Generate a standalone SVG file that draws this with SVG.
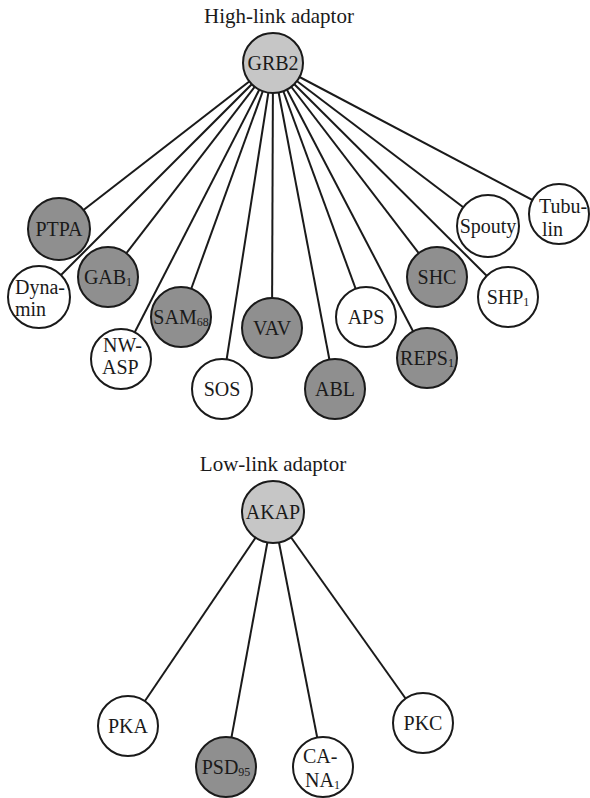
<svg xmlns="http://www.w3.org/2000/svg" width="590" height="798" viewBox="0 0 590 798">
<style>
.t{font-family:"Liberation Serif","Times New Roman",serif;font-size:21px;fill:#1a1a1a}
.l{font-family:"Liberation Serif","Times New Roman",serif;font-size:20px;fill:#1a1a1a;text-anchor:middle}
.ll{font-family:"Liberation Serif","Times New Roman",serif;font-size:20px;fill:#1a1a1a}
.s{font-size:12px}
circle{stroke:#1a1a1a;stroke-width:2}
.w{fill:#ffffff}
.d{fill:#8f8f8f}
.h{fill:#c6c6c6}
.e{stroke:#1a1a1a;stroke-width:2;fill:none}
</style>
<rect width="590" height="798" fill="#ffffff"/>
<text class="t" x="279" y="23" text-anchor="middle">High-link adaptor</text>
<text class="t" x="273" y="471" text-anchor="middle">Low-link adaptor</text>
<g id="connectors">
<g class="e">
<line x1="273" y1="63" x2="59" y2="229"/>
<line x1="273" y1="63" x2="39" y2="297"/>
<line x1="273" y1="63" x2="108" y2="277"/>
<line x1="273" y1="63" x2="121" y2="359"/>
<line x1="273" y1="63" x2="181" y2="317"/>
<line x1="273" y1="63" x2="222" y2="389"/>
<line x1="273" y1="63" x2="272" y2="328"/>
<line x1="273" y1="63" x2="335" y2="389"/>
<line x1="273" y1="63" x2="366" y2="317"/>
<line x1="273" y1="63" x2="427" y2="358"/>
<line x1="273" y1="63" x2="437" y2="277"/>
<line x1="273" y1="63" x2="508" y2="297"/>
<line x1="273" y1="63" x2="488" y2="226"/>
<line x1="273" y1="63" x2="559" y2="214"/>
<line x1="273" y1="512" x2="128" y2="726"/>
<line x1="273" y1="512" x2="226" y2="767"/>
<line x1="273" y1="512" x2="323" y2="767"/>
<line x1="273" y1="512" x2="423" y2="723"/>
</g>
</g>
<g id="GRB2"><circle class="h" cx="273" cy="63" r="30"/><text class="l" x="273" y="70">GRB2</text></g>
<g id="PTPA"><circle class="d" cx="59" cy="229" r="31"/><text class="l" x="59" y="236">PTPA</text></g>
<g id="Dynamin"><circle class="w" cx="39" cy="297" r="31"/><text class="ll" x="15" y="294">Dyna-</text><text class="ll" x="15" y="316">min</text></g>
<g id="GAB1"><circle class="d" cx="108" cy="277" r="30"/><text class="l" x="108" y="284">GAB<tspan class="s" dy="2">1</tspan></text></g>
<g id="NW-ASP"><circle class="w" cx="121" cy="359" r="30"/><text class="ll" x="103" y="352">NW-</text><text class="ll" x="102" y="374">ASP</text></g>
<g id="SAM68"><circle class="d" cx="181" cy="317" r="30"/><text class="l" x="181" y="324">SAM<tspan class="s" dy="2">68</tspan></text></g>
<g id="SOS"><circle class="w" cx="222" cy="389" r="30"/><text class="l" x="222" y="396">SOS</text></g>
<g id="VAV"><circle class="d" cx="272" cy="328" r="30"/><text class="l" x="272" y="335">VAV</text></g>
<g id="ABL"><circle class="d" cx="335" cy="389" r="30"/><text class="l" x="335" y="396">ABL</text></g>
<g id="APS"><circle class="w" cx="366" cy="317" r="30"/><text class="l" x="366" y="324">APS</text></g>
<g id="REPS1"><circle class="d" cx="427" cy="358" r="30"/><text class="l" x="427" y="365">REPS<tspan class="s" dy="2">1</tspan></text></g>
<g id="SHC"><circle class="d" cx="437" cy="277" r="30"/><text class="l" x="437" y="284">SHC</text></g>
<g id="SHP1"><circle class="w" cx="508" cy="297" r="30"/><text class="l" x="508" y="304">SHP<tspan class="s" dy="2">1</tspan></text></g>
<g id="Spouty"><circle class="w" cx="488" cy="226" r="31"/><text class="l" x="488" y="233">Spouty</text></g>
<g id="Tubulin"><circle class="w" cx="559" cy="214" r="30"/><text class="ll" x="539" y="213">Tubu-</text><text class="ll" x="542" y="236">lin</text></g>
<g id="AKAP"><circle class="h" cx="273" cy="512" r="31"/><text class="l" x="273" y="519">AKAP</text></g>
<g id="PKA"><circle class="w" cx="128" cy="726" r="30"/><text class="l" x="128" y="733">PKA</text></g>
<g id="PSD95"><circle class="d" cx="226" cy="767" r="30"/><text class="l" x="226" y="774">PSD<tspan class="s" dy="2">95</tspan></text></g>
<g id="CA-NA1"><circle class="w" cx="323" cy="767" r="30"/><text class="ll" x="303" y="763">CA-</text><text class="ll" x="305" y="787">NA<tspan class="s" dy="2">1</tspan></text></g>
<g id="PKC"><circle class="w" cx="423" cy="723" r="30"/><text class="l" x="423" y="730">PKC</text></g>
</svg>
